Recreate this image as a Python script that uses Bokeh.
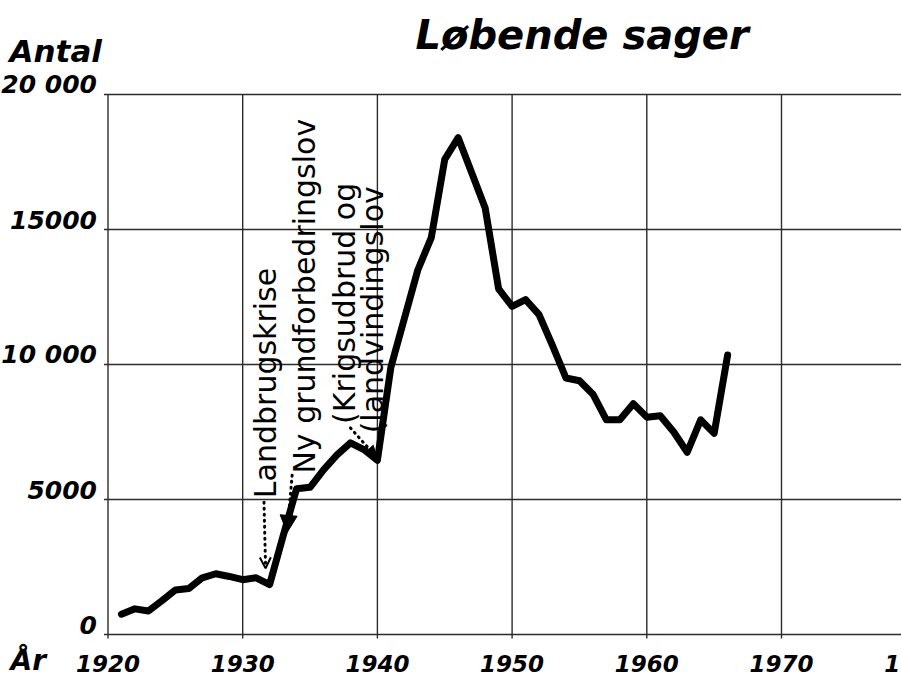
import math
from bokeh.plotting import figure
from bokeh.models import Range1d, Arrow, OpenHead, NormalHead
from bokeh.core.properties import value
from bokeh.embed import file_html
from bokeh.resources import INLINE

# ---- data ----
years = list(range(1921, 1967))
cases = [750, 950, 870, 1250, 1650, 1700, 2100, 2250, 2150, 2030,
         2100, 1850, 3650, 5400, 5450, 6100, 6650, 7100, 6850, 6450,
         9900, 11700, 13500, 14700, 17600, 18400, 17100, 15800, 12800, 12150,
         12400, 11850, 10700, 9500, 9400, 8900, 7950, 7950, 8550, 8050,
         8100, 7500, 6750, 7950, 7450, 10350]

x_ticks = [1920, 1930, 1940, 1950, 1960, 1970, 1980]
x_tick_labels = ["1920", "1930", "1940", "1950", "1960", "1970", "1980"]
y_ticks = [0, 5000, 10000, 15000, 20000]
y_tick_labels = ["0", "5000", "10 000", "15000", "20 000"]

title_text = "Løbende sager"
y_label = "Antal"
x_label = "År"

# annotations: rotated text starting at (year, value); dotted arrows start -> end
ann_texts = ["Landbrugskrise", "Ny grundforbedringslov", "(Krigsudbrud og", "(landvindingslov"]
ann_x = [1931.66, 1934.59, 1937.56, 1939.67]
ann_y = [5050, 5960, 7800, 7450]
arr_x0 = [1931.58, 1933.67, 1938.0]
arr_y0 = [4900, 5900, 7650]
arr_x1 = [1931.70, 1933.30, 1939.93]
arr_y1 = [2450, 3780, 6570]

# ---- layout (pixel geometry of the plotting area) ----
W, H = 901, 679
X0PX, PX_PER_YEAR = 107.5, 13.47        # where 1920 sits, horizontal scale
Y0PX, PX_PER_UNIT = 634.0, 540 / 20000  # where 0 sits, vertical scale

def dx(px):
    return 1920 + (px - X0PX) / PX_PER_YEAR

def dy(py):
    return (Y0PX - py) / PX_PER_UNIT

FONT = value("DejaVu Sans")
BI = value("bold italic")
GRID = "#2b2b2b"

p = figure(width=W, height=H, output_backend="svg", toolbar_location=None,
           x_range=Range1d(dx(0), dx(W)), y_range=Range1d(dy(H), dy(0)),
           x_axis_type=None, y_axis_type=None,
           min_border=0, min_border_left=0, min_border_right=0,
           min_border_top=0, min_border_bottom=0)
p.outline_line_color = None
p.background_fill_color = "white"
p.border_fill_color = "white"
p.xgrid.visible = False
p.ygrid.visible = False

# grid lines (bounded to the chart body)
gx = x_ticks[:-1]
p.segment(x0=gx, y0=[-150] * len(gx), x1=gx, y1=[y_ticks[-1]] * len(gx),
          line_color=GRID, line_width=1.4)
p.segment(x0=[1919.7] * len(y_ticks), y0=y_ticks, x1=[dx(W) + 1] * len(y_ticks), y1=y_ticks,
          line_color=GRID, line_width=1.4)

# main line
p.line(years, cases, line_width=7, line_color="black", line_join="round", line_cap="round")

# tick labels (sitting just above their grid lines)
lift = 10 / PX_PER_UNIT
p.text(x=[1920] * len(y_ticks), y=[t + lift for t in y_ticks], text=y_tick_labels, x_offset=-11,
       text_align="right", text_baseline="middle", text_font=FONT,
       text_font_style=BI, text_font_size="25px", text_color="black")
p.text(x=x_ticks, y=[dy(663)] * len(x_ticks), text=x_tick_labels,
       text_align="center", text_baseline="middle", text_font=FONT,
       text_font_style=BI, text_font_size="23px", text_color="black")

# axis captions and title
p.text(x=[dx(415)], y=[dy(34)], text=[title_text], text_align="left",
       text_baseline="middle", text_font=FONT, text_font_style=BI,
       text_font_size="40px", text_color="black")
p.text(x=[dx(9)], y=[dy(50)], text=[y_label], text_align="left",
       text_baseline="middle", text_font=FONT, text_font_style=BI,
       text_font_size="31px", text_color="black")
p.text(x=[dx(10)], y=[dy(660)], text=[x_label], text_align="left",
       text_baseline="middle", text_font=FONT, text_font_style=BI,
       text_font_size="28px", text_color="black")

# rotated annotations
p.text(x=ann_x, y=ann_y, text=ann_texts, angle=math.pi / 2, text_align="left",
       text_baseline="middle", text_font=FONT, text_font_size="30px",
       text_color="black")

heads = [OpenHead(size=11, line_width=2, line_color="black"),
         NormalHead(size=17, fill_color="black", line_color="black"),
         NormalHead(size=11, fill_color="black", line_color="black")]
for x0, y0, x1, y1, h in zip(arr_x0, arr_y0, arr_x1, arr_y1, heads):
    p.add_layout(Arrow(x_start=x0, y_start=y0, x_end=x1, y_end=y1, end=h,
                       line_color="black", line_width=3, line_dash="1 5",
                       line_cap="round"))

open("out.html", "w").write(file_html(p, INLINE))
